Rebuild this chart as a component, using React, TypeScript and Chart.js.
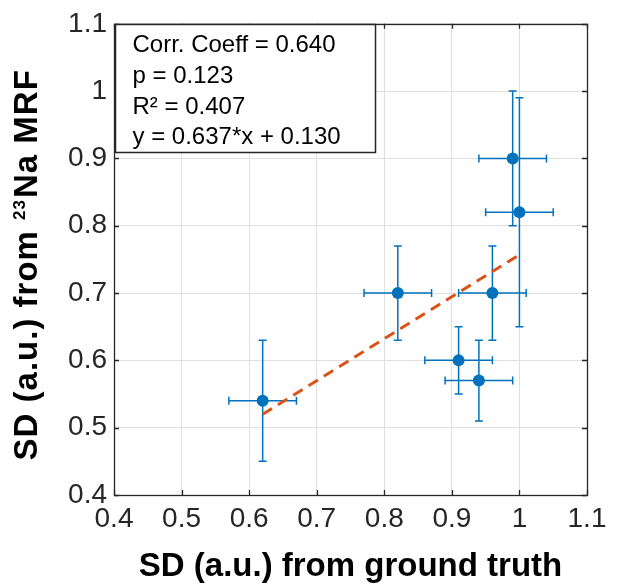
import React, { useEffect, useRef } from 'react';
import { Chart, registerables } from 'chart.js';

Chart.register(...registerables);

// ---- data ----
const xValues = [0.62, 0.82, 0.91, 0.94, 0.96, 0.99, 1.0];
const yValues = [0.54, 0.7, 0.6, 0.57, 0.7, 0.9, 0.82];
const xErrors = [0.05, 0.05, 0.05, 0.05, 0.05, 0.05, 0.05];
const yErrors = [0.09, 0.07, 0.05, 0.06, 0.07, 0.1, 0.17];

const fitX = [0.62, 1.0];
const fitY = [0.52, 0.757];

const xTicks = [0.4, 0.5, 0.6, 0.7, 0.8, 0.9, 1.0, 1.1];
const xTickLabels = ['0.4', '0.5', '0.6', '0.7', '0.8', '0.9', '1', '1.1'];
const yTicks = [0.4, 0.5, 0.6, 0.7, 0.8, 0.9, 1.0, 1.1];
const yTickLabels = ['0.4', '0.5', '0.6', '0.7', '0.8', '0.9', '1', '1.1'];

const annotationLines = ['Corr. Coeff = 0.640', 'p = 0.123', 'R\u00B2 = 0.407', 'y = 0.637*x + 0.130'];
const xTitle = 'SD (a.u.) from ground truth';
// y title pieces: [text, isSuperscript]
const yTitleParts: [string, boolean][] = [
  ['SD (a.u.) from ', false],
  ['23', true],
  ['Na MRF', false],
];

const FONT = '"Liberation Sans", Arial, Helvetica, sans-serif';
const BLUE = '#0072BD';
const ORANGE = '#D95319';
const AXIS = '#262626';

export default function App() {
  const ref = useRef<HTMLCanvasElement>(null);

  useEffect(() => {
    const canvas = ref.current;
    if (!canvas) return;

    const errorBars = {
      id: 'errorBars',
      beforeDatasetsDraw(chart: any) {
        const { ctx, scales } = chart;
        const xs = scales.x;
        const ys = scales.y;
        const cap = 4;
        ctx.save();
        ctx.strokeStyle = BLUE;
        ctx.lineWidth = 1.5;
        xValues.forEach((xv, i) => {
          const yv = yValues[i];
          const px = xs.getPixelForValue(xv);
          const py = ys.getPixelForValue(yv);
          const x0 = xs.getPixelForValue(xv - xErrors[i]);
          const x1 = xs.getPixelForValue(xv + xErrors[i]);
          const y0 = ys.getPixelForValue(yv - yErrors[i]);
          const y1 = ys.getPixelForValue(yv + yErrors[i]);
          ctx.beginPath();
          ctx.moveTo(px, y0);
          ctx.lineTo(px, y1);
          ctx.moveTo(px - cap, y0);
          ctx.lineTo(px + cap, y0);
          ctx.moveTo(px - cap, y1);
          ctx.lineTo(px + cap, y1);
          ctx.moveTo(x0, py);
          ctx.lineTo(x1, py);
          ctx.moveTo(x0, py - cap);
          ctx.lineTo(x0, py + cap);
          ctx.moveTo(x1, py - cap);
          ctx.lineTo(x1, py + cap);
          ctx.stroke();
        });
        ctx.restore();
      },
    };

    const frame = {
      id: 'frame',
      afterDatasetsDraw(chart: any) {
        const { ctx, chartArea, scales } = chart;
        const { left, right, top, bottom } = chartArea;
        const tl = 5;
        ctx.save();
        ctx.strokeStyle = AXIS;
        ctx.lineWidth = 1.3;
        ctx.beginPath();
        xTicks.forEach((v) => {
          const px = Math.round(scales.x.getPixelForValue(v)) + 0.5;
          ctx.moveTo(px, bottom);
          ctx.lineTo(px, bottom - tl);
          ctx.moveTo(px, top);
          ctx.lineTo(px, top + tl);
        });
        yTicks.forEach((v) => {
          const py = Math.round(scales.y.getPixelForValue(v)) + 0.5;
          ctx.moveTo(left, py);
          ctx.lineTo(left + tl, py);
          ctx.moveTo(right, py);
          ctx.lineTo(right - tl, py);
        });
        ctx.stroke();
        ctx.strokeRect(Math.round(left) + 0.5, Math.round(top) + 0.5, Math.round(right - left), Math.round(bottom - top));
        ctx.restore();
      },
      afterDraw(chart: any) {
        const { ctx, chartArea } = chart;
        // annotation box
        const bx = Math.round(chartArea.left) + 1.5;
        const by = Math.round(chartArea.top) + 0.5;
        const bw = 260;
        const bh = 128;
        ctx.save();
        ctx.fillStyle = '#ffffff';
        ctx.fillRect(bx, by, bw, bh);
        ctx.strokeStyle = AXIS;
        ctx.lineWidth = 1.5;
        ctx.strokeRect(bx, by, bw, bh);
        ctx.fillStyle = '#000000';
        ctx.font = `24px ${FONT}`;
        ctx.textBaseline = 'middle';
        ctx.textAlign = 'left';
        annotationLines.forEach((line, i) => {
          ctx.fillText(line, bx + 17, by + 21 + i * 30.7);
        });
        ctx.restore();

        // y axis title with superscript
        ctx.save();
        const midY = (chartArea.top + chartArea.bottom) / 2;
        ctx.translate(37, midY + 201);
        ctx.rotate(-Math.PI / 2);
        ctx.fillStyle = '#000';
        ctx.textBaseline = 'alphabetic';
        ctx.textAlign = 'left';
        (ctx as any).letterSpacing = '1px';
        let cx = 0;
        yTitleParts.forEach(([text, sup]) => {
          ctx.font = sup ? `bold 17px ${FONT}` : `bold 33px ${FONT}`;
          ctx.fillText(text, cx, sup ? -12 : 0);
          cx += ctx.measureText(text).width + (sup ? 1 : 0);
        });
        ctx.restore();
      },
    };

    const chart = new Chart(canvas, {
      type: 'scatter',
      data: {
        datasets: [
          {
            data: fitX.map((x, i) => ({ x, y: fitY[i] })),
            showLine: true,
            borderColor: ORANGE,
            backgroundColor: ORANGE,
            borderWidth: 3,
            borderDash: [11, 7],
            pointRadius: 0,
            order: 0,
          } as any,
          {
            data: xValues.map((x, i) => ({ x, y: yValues[i] })),
            backgroundColor: BLUE,
            borderColor: BLUE,
            borderWidth: 0,
            pointRadius: 6,
            order: 1,
          } as any,
        ],
      },
      options: {
        animation: false,
        responsive: true,
        maintainAspectRatio: false,
        layout: { padding: { top: 22, right: 36, left: 0, bottom: 0 } },
        plugins: { legend: { display: false }, tooltip: { enabled: false } },
        scales: {
          x: {
            type: 'linear',
            min: 0.4,
            max: 1.1,
            afterBuildTicks: (s: any) => {
              s.ticks = xTicks.map((v) => ({ value: v }));
            },
            afterFit: (s: any) => {
              s.height = 93;
            },
            ticks: {
              callback: (_v: any, i: number) => xTickLabels[i],
              color: AXIS,
              font: { family: FONT, size: 28 },
              padding: 7,
              maxRotation: 0,
              autoSkip: false,
            },
            grid: { color: '#e0e0e0', lineWidth: 1, drawTicks: false },
            border: { display: false },
            title: {
              display: true,
              text: xTitle,
              color: '#000',
              font: { family: FONT, size: 33, weight: 'bold' },
              padding: { top: 0, bottom: 1 },
            },
          },
          y: {
            type: 'linear',
            min: 0.4,
            max: 1.1,
            afterBuildTicks: (s: any) => {
              s.ticks = yTicks.map((v) => ({ value: v }));
            },
            afterFit: (s: any) => {
              s.width = 114;
            },
            ticks: {
              callback: (_v: any, i: number) => yTickLabels[i],
              color: AXIS,
              font: { family: FONT, size: 28 },
              padding: 7,
              autoSkip: false,
            },
            grid: { color: '#e0e0e0', lineWidth: 1, drawTicks: false },
            border: { display: false },
            title: { display: false },
          },
        },
      } as any,
      plugins: [errorBars, frame],
    });

    return () => chart.destroy();
  }, []);

  return (
    <div style={{ position: 'fixed', left: 0, top: 0, width: 623, height: 588, background: '#fff' }}>
      <canvas ref={ref} />
    </div>
  );
}
